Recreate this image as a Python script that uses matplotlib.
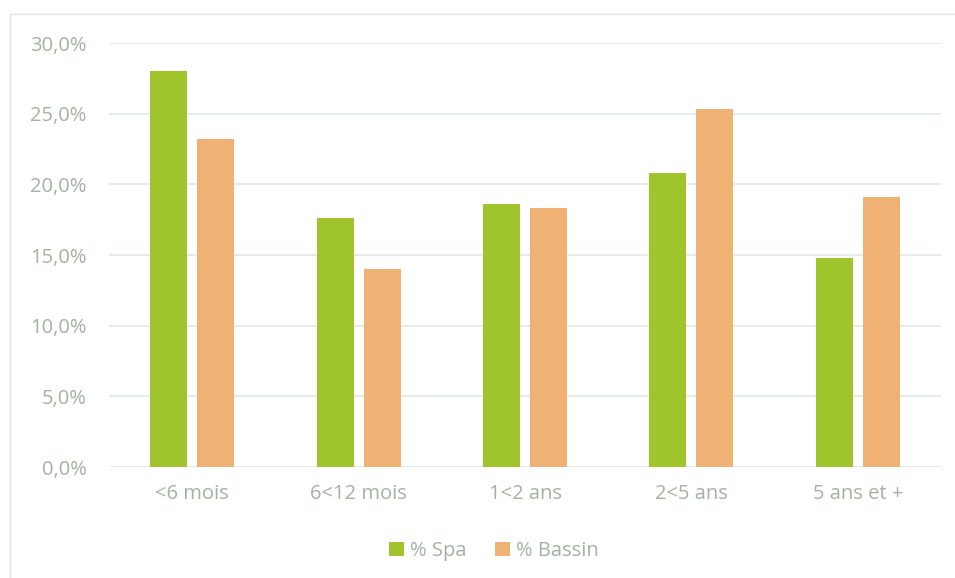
import matplotlib
matplotlib.use("Agg")
import matplotlib.pyplot as plt
import numpy as np
from matplotlib.patches import Rectangle
from matplotlib.ticker import FuncFormatter

# ── data ──────────────────────────────────────────────────────────────────────
categories = ["<6 mois", "6<12 mois", "1<2 ans", "2<5 ans", "5 ans et +"]
spa = [28.0, 17.6, 18.6, 20.8, 14.8]
bassin = [23.2, 14.0, 18.3, 25.3, 19.1]

GREEN = "#A0C42C"
ORANGE = "#F0B274"
TEXT = "#A2B3A1"
GRID = "#E6EAE8"

plt.rcParams["font.family"] = ["Open Sans", "DejaVu Sans"]

W, H = 955, 578
fig = plt.figure(figsize=(W / 100, H / 100), dpi=100)

# outer chart frame
fig.patches.append(Rectangle((10 / W, -0.01), 1.0, (H - 14) / H + 0.01,
                             transform=fig.transFigure, fill=False,
                             edgecolor="#E2E2E2", lw=1.0))

ax = fig.add_axes([109 / W, (H - 467) / H, (941 - 109) / W, (467 - 43) / H])

x = np.arange(len(categories))
bw = 0.222
off = 0.141
ax.bar(x - off, spa, bw, color=GREEN, label="% Spa", zorder=3)
ax.bar(x + off, bassin, bw, color=ORANGE, label="% Bassin", zorder=3)

ax.set_xlim(-0.5, len(categories) - 0.5)
ax.set_ylim(0, 30)
ax.set_yticks(np.arange(0, 31, 5))
ax.yaxis.set_major_formatter(FuncFormatter(lambda v, _: f"{v:.1f}%".replace(".", ",")))
ax.set_xticks(x)
ax.set_xticklabels(categories)
ax.grid(axis="y", color=GRID, lw=1.5, zorder=0)
for s in ax.spines.values():
    s.set_visible(False)
ax.tick_params(length=0, labelsize=14.5, colors=TEXT)
ax.tick_params(axis="x", pad=12)
ax.tick_params(axis="y", pad=16)

ax.legend(loc="center", bbox_to_anchor=(494 / W, (H - 551) / H),
          bbox_transform=fig.transFigure, ncol=2, frameon=False,
          fontsize=14.5, labelcolor=TEXT, handlelength=0.75, handleheight=0.75,
          handletextpad=0.3, columnspacing=1.4)

fig.savefig("out.png", dpi=100)
